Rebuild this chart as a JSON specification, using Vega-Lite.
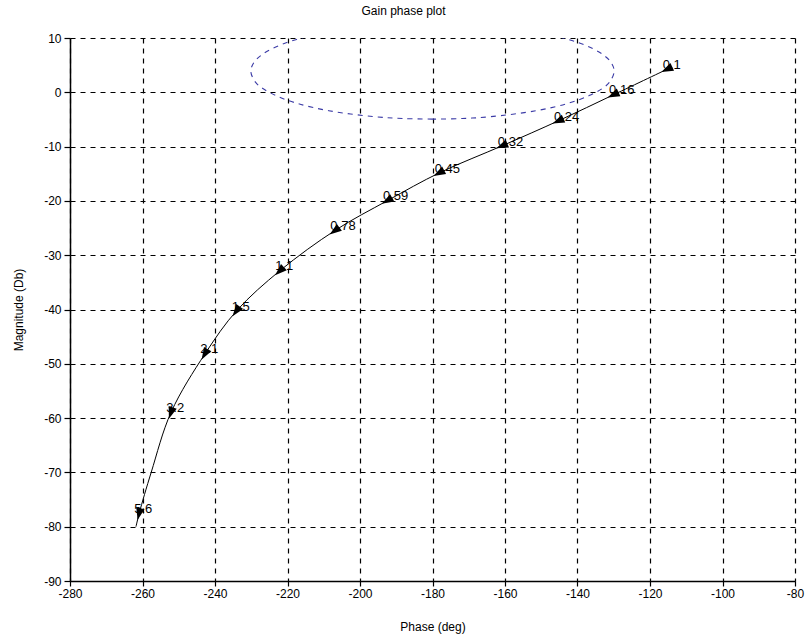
{
  "$schema": "https://vega.github.io/schema/vega-lite/v6.json",
  "width": 725,
  "height": 543,
  "autosize": "none",
  "padding": {"left": 70, "top": 38, "right": 11, "bottom": 59},
  "background": "white",
  "config": {
    "view": {"stroke": null},
    "font": "Liberation Sans",
    "axis": {
      "domainColor": "black", "domainWidth": 1.5,
      "tickColor": "black", "tickWidth": 1.2,
      "labelColor": "black", "labelFont": "Liberation Sans", "labelFontSize": 12,
      "titleFont": "Liberation Sans", "titleFontSize": 12, "titleFontWeight": "normal", "titleColor": "black",
      "gridColor": "black", "gridDash": [5, 5], "gridWidth": 1.2, "gridOpacity": 1
    }
  },
  "title": {"text": "Gain phase plot", "fontSize": 12, "fontWeight": "normal", "font": "Liberation Sans", "offset": 14, "dx": -29, "color": "black", "anchor": "middle"},
  "datasets": {
    "curve": [
      {"k": 0, "label": "0.1", "phase": -115.1, "mag": 4.3},
      {"k": 1, "label": "0.16", "phase": -129.9, "mag": -0.4},
      {"k": 2, "label": "0.24", "phase": -145.1, "mag": -5.2},
      {"k": 3, "label": "0.32", "phase": -160.6, "mag": -9.8},
      {"k": 4, "label": "0.45", "phase": -178.0, "mag": -14.8},
      {"k": 5, "label": "0.59", "phase": -192.3, "mag": -19.9},
      {"k": 6, "label": "0.78", "phase": -206.8, "mag": -25.4},
      {"k": 7, "label": "1.1", "phase": -222.0, "mag": -32.8},
      {"k": 8, "label": "1.5", "phase": -234.0, "mag": -40.2},
      {"k": 9, "label": "2.1", "phase": -242.7, "mag": -48.1},
      {"k": 10, "label": "3.2", "phase": -252.1, "mag": -58.9},
      {"k": 10.5, "label": "", "phase": -257.6, "mag": -70.0},
      {"k": 11, "label": "5.6", "phase": -260.9, "mag": -77.5},
      {"k": 12, "label": "", "phase": -261.8, "mag": -80.0}
    ],
    "contour": [
      {"t": 0, "phase": -180.0, "mag": -4.94},
      {"t": 2.5, "phase": -188.16, "mag": -4.83},
      {"t": 5, "phase": -195.85, "mag": -4.50},
      {"t": 10, "phase": -208.6, "mag": -3.39},
      {"t": 15, "phase": -217.5, "mag": -2.01},
      {"t": 20, "phase": -223.2, "mag": -0.61},
      {"t": 25, "phase": -226.8, "mag": 0.69},
      {"t": 30, "phase": -228.84, "mag": 1.87},
      {"t": 40, "phase": -230.12, "mag": 3.88},
      {"t": 50, "phase": -229.24, "mag": 5.52},
      {"t": 60, "phase": -227.16, "mag": 6.87},
      {"t": 70, "phase": -224.35, "mag": 7.99},
      {"t": 80, "phase": -221.08, "mag": 8.94},
      {"t": 90, "phase": -217.5, "mag": 9.73},
      {"t": 100, "phase": -213.7, "mag": 10.41},
      {"t": 120, "phase": -205.65, "mag": 11.45},
      {"t": 150, "phase": -192.98, "mag": 12.37},
      {"t": 180, "phase": -180.0, "mag": 12.67},
      {"t": 210, "phase": -167.02, "mag": 12.37},
      {"t": 240, "phase": -154.35, "mag": 11.45},
      {"t": 260, "phase": -146.3, "mag": 10.41},
      {"t": 270, "phase": -142.5, "mag": 9.73},
      {"t": 280, "phase": -138.92, "mag": 8.94},
      {"t": 290, "phase": -135.65, "mag": 7.99},
      {"t": 300, "phase": -132.84, "mag": 6.87},
      {"t": 310, "phase": -130.76, "mag": 5.52},
      {"t": 320, "phase": -129.88, "mag": 3.88},
      {"t": 330, "phase": -131.16, "mag": 1.87},
      {"t": 335, "phase": -133.2, "mag": 0.69},
      {"t": 340, "phase": -136.8, "mag": -0.61},
      {"t": 345, "phase": -142.5, "mag": -2.01},
      {"t": 350, "phase": -151.4, "mag": -3.39},
      {"t": 355, "phase": -164.15, "mag": -4.50},
      {"t": 357.5, "phase": -171.84, "mag": -4.83},
      {"t": 360, "phase": -180.0, "mag": -4.94}
    ]
  },
  "layer": [
    {
      "data": {"name": "contour"},
      "mark": {"type": "line", "clip": true, "color": "#3b3ba6", "strokeDash": [5, 5], "strokeWidth": 1.1, "interpolate": "catmull-rom"},
      "encoding": {
        "x": {"field": "phase", "type": "quantitative", "scale": {"domain": [-280, -80], "nice": false, "zero": false},
          "axis": {"title": "Phase (deg)", "values": [-280, -260, -240, -220, -200, -180, -160, -140, -120, -100, -80], "grid": true, "tickSize": 5, "labelPadding": 2, "titlePadding": 22, "labelFlush": false, "labelExpr": "'' + datum.value"}},
        "y": {"field": "mag", "type": "quantitative", "scale": {"domain": [-90, 10], "nice": false, "zero": false},
          "axis": {"title": "Magnitude (Db)", "values": [-90, -80, -70, -60, -50, -40, -30, -20, -10, 0, 10], "grid": true, "tickSize": 6, "labelPadding": 3, "titlePadding": 18, "labelFlush": false, "labelExpr": "'' + datum.value"}},
        "order": {"field": "t", "type": "quantitative"}
      }
    },
    {
      "data": {"name": "curve"},
      "mark": {"type": "line", "color": "black", "strokeWidth": 1, "interpolate": "catmull-rom"},
      "encoding": {
        "x": {"field": "phase", "type": "quantitative", "scale": {"domain": [-280, -80], "nice": false, "zero": false}},
        "y": {"field": "mag", "type": "quantitative", "scale": {"domain": [-90, 10], "nice": false, "zero": false}}
      }
    },
    {
      "data": {"name": "curve"},
      "transform": [
        {"window": [{"op": "lead", "field": "phase", "as": "nphase"}, {"op": "lead", "field": "mag", "as": "nmag"}], "sort": [{"field": "k", "order": "ascending"}]},
        {"filter": "datum.label != ''"},
        {"calculate": "atan2((datum.nphase - datum.phase) * 3.625, (datum.nmag - datum.mag) * 5.43) * 180 / PI", "as": "ang"}
      ],
      "mark": {"type": "point", "shape": "M0,-1L0.6,0.7L-0.6,0.7Z", "filled": true, "color": "black", "size": 200, "opacity": 1, "strokeWidth": 0},
      "encoding": {
        "x": {"field": "phase", "type": "quantitative", "scale": {"domain": [-280, -80], "nice": false, "zero": false}},
        "y": {"field": "mag", "type": "quantitative", "scale": {"domain": [-90, 10], "nice": false, "zero": false}},
        "angle": {"field": "ang", "type": "quantitative", "scale": null}
      }
    },
    {
      "data": {"name": "curve"},
      "transform": [{"filter": "datum.label != ''"}],
      "mark": {"type": "text", "align": "left", "baseline": "middle", "dx": -5, "dy": -4, "fontSize": 13, "font": "Liberation Sans", "color": "black"},
      "encoding": {
        "x": {"field": "phase", "type": "quantitative", "scale": {"domain": [-280, -80], "nice": false, "zero": false}},
        "y": {"field": "mag", "type": "quantitative", "scale": {"domain": [-90, 10], "nice": false, "zero": false}},
        "text": {"field": "label"}
      }
    }
  ]
}
